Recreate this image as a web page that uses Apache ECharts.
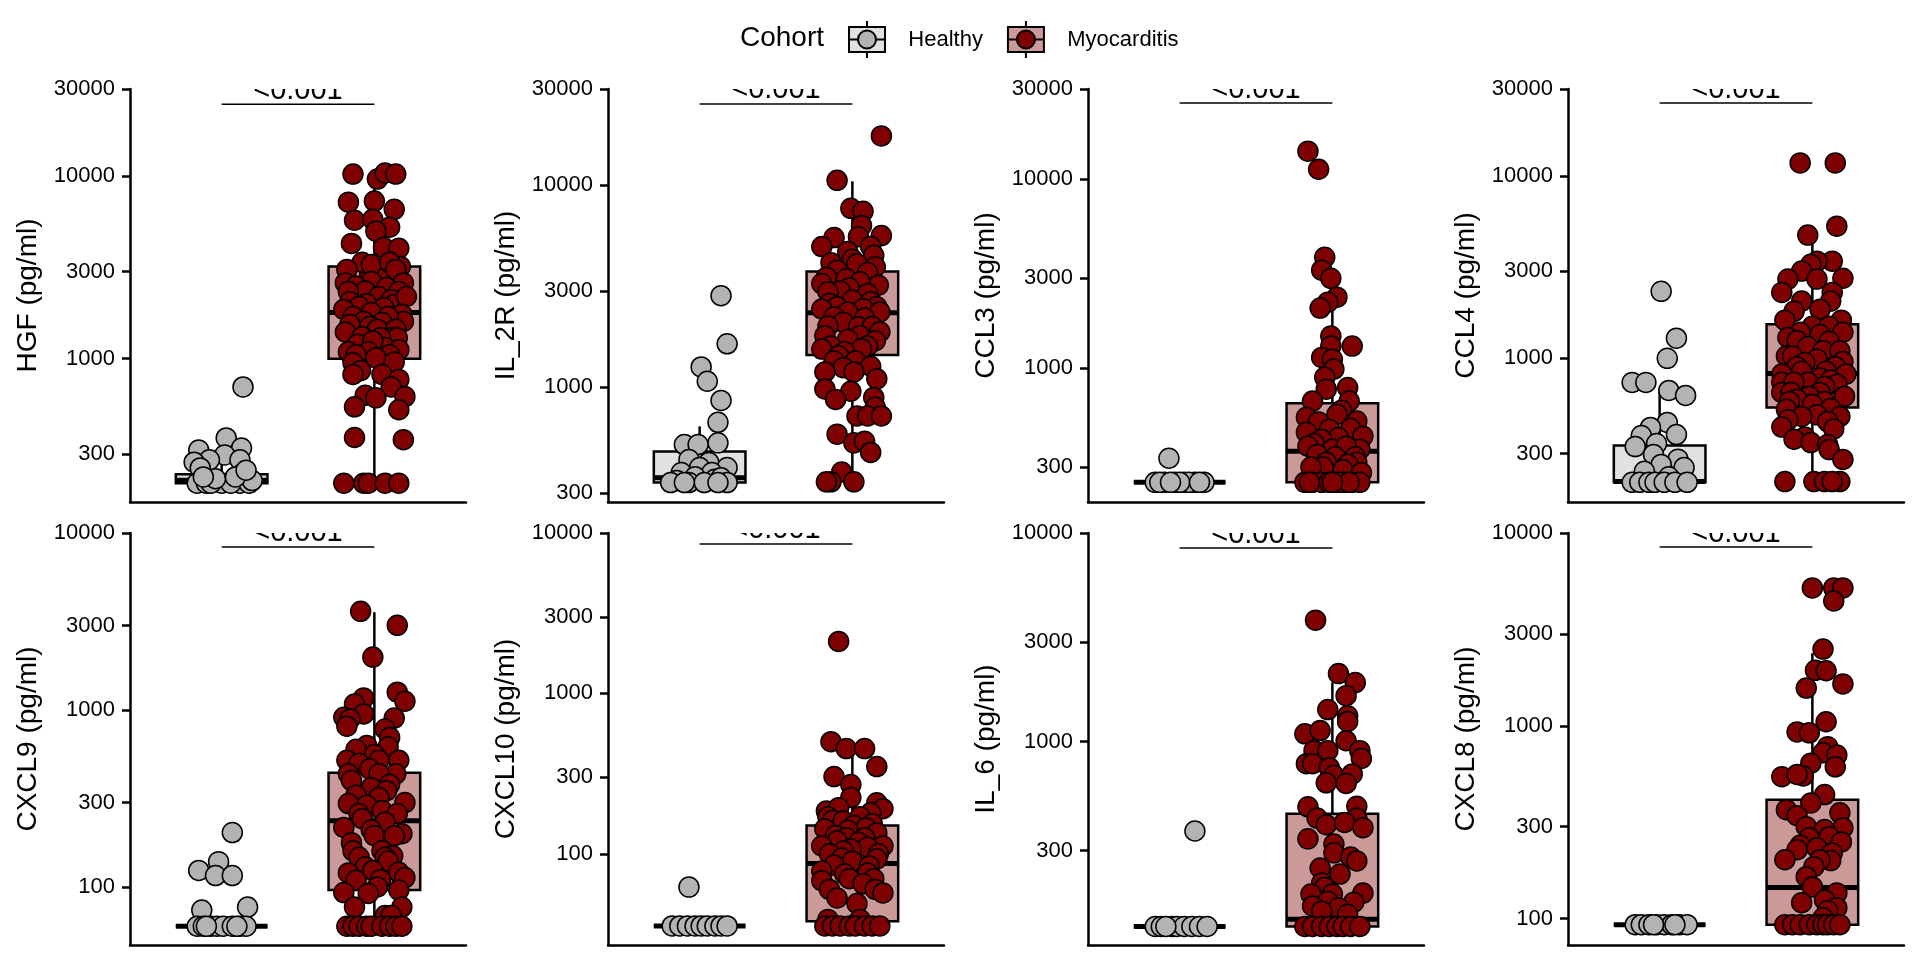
<!DOCTYPE html>
<html>
<head>
<meta charset="utf-8">
<script src="https://cdn.jsdelivr.net/npm/echarts@6/dist/echarts.min.js"></script>
<style>
html, body { margin: 0; padding: 0; background: #fff; }
#chart { width: 1920px; height: 960px; }
</style>
</head>
<body>
<div id="chart"></div>
<script>
// panel order: left to right, top row then bottom row
var markers = ['HGF', 'IL_2R', 'CCL3', 'CCL4', 'CXCL9', 'CXCL10', 'IL_6', 'CXCL8'];
var cohorts = ['Healthy', 'Myocarditis'];
var yMin = [164, 270, 196, 163, 47, 27, 106, 73];
var yMax = [30000, 30000, 30000, 30000, 10000, 10000, 10000, 10000];
var yTicks = [
    [300, 1000, 3000, 10000, 30000],
    [300, 1000, 3000, 10000, 30000],
    [300, 1000, 3000, 10000, 30000],
    [300, 1000, 3000, 10000, 30000],
    [100, 300, 1000, 3000, 10000],
    [100, 300, 1000, 3000, 10000],
    [300, 1000, 3000, 10000],
    [100, 300, 1000, 3000, 10000]
];
// box stats: [min, Q1, median, Q3, max]
var healthyBox = [
    [208, 208, 216, 233, 300],
    [337, 337, 356, 480, 640],
    [249, 249, 249, 249, 249],
    [209, 209, 211, 333, 676],
    [60, 60, 60, 60, 60],
    [35.5, 35.5, 35.5, 35.5, 35.5],
    [130, 130, 130, 130, 130],
    [93, 93, 93, 93, 93]
];
var myoBox = [
    [208, 1000, 1790, 3200, 10400],
    [340, 1443, 2335, 3740, 10470],
    [249, 249, 364, 653, 2050],
    [211, 538, 827, 1537, 4340],
    [60, 96, 237, 442, 3570],
    [35.5, 38, 87, 150, 453],
    [130, 130, 141, 451, 1920],
    [93, 93, 145, 414, 2380]
];
var bracketLevel = [24760, 25300, 25260, 25130, 8340, 8540, 8470, 8460];
var pLabel = '<0.001';

// points: [jitter offset from group centre, value in pg/ml]
var hgfHealthy = [[0.14,700],[0.03,368],[-0.15,316],[0.13,324],[0.02,297],[-0.08,279],[-0.18,271],[-0.14,252],[0.12,279],[0.14,236],[-0.16,208],[0,208],[0.12,208],[-0.10,208],[-0.07,208],[0.06,208],[0.18,208],[0.2,215],[-0.04,220],[0.09,225],[-0.12,225],[0.16,245]];
var hgfMyo = [[-0.14,10260],[0.02,9630],[0.07,10400],[0.14,10260],[-0.17,7200],[0,7300],[0.13,6580],[-0.13,5730],[-0.01,5800],[0.10,5250],[0.01,4990],[-0.15,4280],[0.06,4070],[0.16,4020],[-0.03,2900],[0.12,2800],[0.04,3000],[0.17,3200],[-0.08,3370],[-0.18,3080],[-0.02,3280],[0.10,3370],[0.14,3080],[-0.19,2600],[0.19,2600],[-0.02,2650],[-0.12,2500],[0.08,2450],[-0.06,2350],[-0.17,2330],[0.16,2330],[0.03,2190],[0.11,2100],[-0.16,2050],[-0.05,2000],[-0.10,1930],[0.13,1980],[0.06,1900],[-0.02,1790],[-0.20,1860],[0.21,2190],[0.18,1750],[-0.14,1700],[0.19,1600],[-0.07,1600],[0.09,1700],[-0.16,1540],[0.05,1580],[-0.03,1500],[-0.19,1400],[0.02,1450],[0.14,1450],[-0.08,1320],[0.11,1300],[0.15,1300],[0.04,1300],[-0.11,1200],[0.07,1150],[-0.01,1250],[-0.17,1090],[-0.04,1090],[0.16,1120],[-0.12,1050],[0.10,1050],[0.01,1010],[-0.14,950],[0.13,960],[-0.09,860],[-0.14,820],[0.05,820],[0.16,770],[0.11,700],[-0.06,630],[0.01,610],[0.20,620],[-0.13,545],[0.16,525],[-0.13,370],[0.19,360],[-0.20,208],[-0.07,208],[-0.04,208],[0.07,208],[0.16,208]];
var il2rHealthy = [[0.14,2840],[0.18,1640],[0.01,1260],[0.05,1070],[0.14,860],[0.12,670],[0.12,530],[-0.10,520],[-0.01,520],[-0.07,438],[0.06,424],[0.18,400],[0,400],[-0.12,378],[0.08,378],[-0.15,345],[-0.03,360],[0.10,350],[-0.19,337],[-0.07,337],[0.03,337],[0.14,356],[0.18,337],[-0.10,337],[0.12,337]];
var il2rMyo = [[0.19,17570],[-0.10,10590],[-0.01,7690],[0.07,7430],[0.06,6320],[0.19,5640],[-0.12,5510],[0.04,5570],[-0.20,4970],[0.12,4970],[-0.03,4700],[0.14,4500],[0,4300],[-0.14,4140],[0.03,4090],[0.15,3950],[-0.10,3800],[0.10,3700],[-0.17,3500],[0.17,3200],[-0.20,3260],[-0.04,3450],[0.05,3330],[-0.02,3100],[-0.08,3000],[0.10,2900],[-0.16,2970],[0,2700],[0.12,2650],[-0.15,2600],[-0.10,2500],[0.16,2500],[0.07,2450],[-0.20,2440],[-0.03,2360],[-0.12,2230],[0.18,2360],[0.08,2200],[-0.06,2100],[-0.16,2010],[0.04,1990],[0.13,2000],[-0.18,1800],[0.05,1800],[-0.03,1730],[0.18,1880],[0.15,1700],[0.10,1600],[-0.14,1600],[0.06,1550],[-0.20,1545],[-0.05,1500],[-0.09,1430],[0.02,1350],[-0.12,1350],[0.12,1270],[-0.06,1250],[-0.18,1190],[0.01,1190],[0.16,1100],[-0.18,980],[-0.01,955],[-0.11,870],[0.14,890],[0.15,795],[0.03,720],[0.10,720],[0.19,720],[-0.10,585],[0.01,530],[0.08,540],[0.12,475],[-0.07,380],[-0.14,340],[0.01,340],[-0.17,340]];
var ccl3Healthy = [[-0.07,334],[-0.16,249],[-0.10,249],[-0.03,249],[0.03,249],[0.10,249],[0.16,249],[-0.13,249],[0.06,249],[0,249],[0.13,249],[-0.06,249]];
var ccl3Myo = [[-0.16,14070],[-0.09,11290],[-0.05,3860],[-0.07,3300],[-0.01,2990],[0.03,2375],[-0.03,2235],[-0.08,2080],[-0.01,1480],[0.13,1310],[-0.01,1310],[-0.07,1140],[0,1115],[0.01,990],[-0.05,895],[-0.04,775],[0.10,790],[-0.13,670],[0.11,670],[0.06,600],[0.03,570],[-0.17,550],[-0.09,520],[0.16,525],[0.12,480],[-0.02,475],[-0.17,458],[0.20,437],[0.04,430],[-0.07,420],[-0.12,400],[0,373],[0.18,373],[0.09,387],[-0.16,387],[-0.10,350],[0.15,340],[0.02,340],[-0.04,318],[0.16,318],[0.10,310],[-0.06,300],[-0.14,300],[0.07,290],[0.19,280],[-0.18,249],[-0.13,249],[-0.07,249],[-0.02,249],[0.03,249],[0.08,249],[0.13,249],[0.18,249],[-0.15,249],[0.05,249],[0.11,249],[0,249]];
var ccl4Healthy = [[0.01,2330],[0.11,1290],[0.05,1000],[-0.18,738],[-0.09,738],[0.06,667],[0.17,626],[0.05,445],[-0.06,418],[0.11,382],[-0.12,377],[-0.16,328],[-0.02,341],[-0.04,297],[0.12,280],[0.01,262],[0.16,252],[-0.10,240],[0.06,224],[-0.18,209],[-0.13,209],[-0.07,209],[-0.03,209],[0.03,209],[0.10,209],[0.18,209]];
var ccl4Myo = [[-0.08,11800],[0.15,11800],[0.16,5310],[-0.03,4740],[0.13,3410],[0.03,3410],[-0.01,3280],[-0.07,3010],[0.20,2750],[-0.16,2720],[0.03,2720],[-0.20,2300],[0.13,2300],[-0.07,2060],[0.12,2060],[0.05,1860],[-0.12,1810],[-0.18,1620],[0.19,1620],[0,1500],[0.11,1500],[-0.08,1390],[0.20,1390],[0.05,1350],[-0.16,1300],[-0.10,1250],[0.11,1240],[-0.03,1160],[0.07,1100],[0.18,1100],[-0.17,1030],[-0.13,1030],[0.20,960],[0.03,990],[-0.05,950],[0.15,900],[-0.10,900],[-0.20,820],[-0.07,850],[0.09,850],[0.22,820],[0.05,780],[0.12,760],[-0.20,740],[-0.03,740],[0.16,720],[-0.12,740],[0.08,700],[-0.20,650],[0.05,650],[-0.14,650],[-0.02,620],[-0.10,595],[0.21,620],[0.08,580],[-0.15,580],[0,560],[0.12,530],[-0.17,525],[0.03,490],[0.18,480],[-0.07,480],[-0.16,460],[0.10,450],[-0.20,420],[0.14,410],[-0.05,370],[-0.12,360],[-0.01,345],[0.10,337],[0.11,316],[0.20,279],[-0.18,211],[0.01,211],[0.08,211],[0.18,211],[0.13,211]];
var cxcl9Healthy = [[0.07,203],[-0.02,139],[-0.15,124],[-0.04,116],[0.07,116],[-0.13,74],[0.17,77],[-0.16,60],[-0.12,60],[-0.07,60],[-0.03,60],[0.01,60],[0.07,60],[0.12,60],[0.16,60],[0.10,60],[-0.10,60]];
var cxcl9Myo = [[-0.09,3610],[0.15,3010],[-0.01,1990],[0.15,1260],[0.20,1120],[-0.07,1170],[-0.13,1080],[-0.07,950],[-0.20,910],[0.13,900],[-0.16,890],[-0.18,810],[0.07,780],[0.10,700],[-0.05,630],[0.09,620],[-0.12,600],[0,560],[-0.18,520],[0.16,520],[0.03,520],[-0.10,500],[-0.03,465],[-0.17,436],[0.14,436],[0.03,436],[-0.15,400],[0.10,380],[-0.02,364],[0.08,350],[-0.12,330],[0.03,320],[0.20,300],[-0.17,296],[-0.05,290],[0.05,270],[-0.10,260],[0.15,260],[-0.08,243],[-0.20,217],[0.07,232],[-0.02,210],[0.18,200],[0,195],[0.13,195],[-0.15,178],[0.05,160],[-0.14,160],[0.12,150],[-0.10,147],[0.07,147],[0.09,140],[-0.06,130],[-0.01,124],[0.16,121],[-0.17,120],[-0.12,109],[0.04,110],[0.20,113],[0.02,100],[-0.20,93],[0.16,96],[-0.04,92],[-0.13,77],[0.18,77],[0.07,69],[0.11,69],[-0.18,60],[-0.14,60],[-0.10,60],[-0.05,60],[-0.02,60],[0.05,60],[0.10,60],[0.14,60],[0.18,60]];
var cxcl10Healthy = [[-0.07,62],[-0.18,35.5],[-0.13,35.5],[-0.08,35.5],[-0.03,35.5],[0.01,35.5],[0.05,35.5],[0.10,35.5],[0.14,35.5],[0.18,35.5]];
var cxcl10Myo = [[-0.09,2110],[-0.14,500],[-0.04,453],[0.08,453],[0.16,350],[-0.12,303],[-0.01,270],[-0.01,224],[0.16,208],[-0.17,185],[0.20,191],[-0.09,194],[0.12,180],[0.05,170],[-0.16,170],[-0.13,161],[-0.06,160],[0.01,150],[0.13,154],[0.09,145],[-0.18,143],[-0.03,140],[0.16,135],[-0.11,130],[-0.04,126],[0.08,126],[-0.10,120],[0.04,118],[-0.20,112],[0.20,112],[0.10,110],[-0.01,107],[-0.06,104],[-0.15,100],[0.17,100],[0.16,93],[-0.07,94],[0,90],[-0.12,85],[0.11,84],[-0.20,78],[0.10,76],[-0.05,75],[-0.02,70],[0.14,70],[-0.20,68],[0.07,65],[0.15,60],[-0.15,60],[0.20,57],[-0.10,53],[0.03,49],[-0.16,39],[0.05,39],[-0.18,35.5],[-0.13,35.5],[-0.08,35.5],[-0.02,35.5],[0.02,35.5],[0.08,35.5],[0.13,35.5],[0.18,35.5]];
var il6Healthy = [[0.10,373],[-0.16,130],[-0.12,130],[-0.05,130],[-0.02,130],[0.03,130],[0.08,130],[0.13,130],[0.18,130],[-0.09,130]];
var il6Myo = [[-0.11,3820],[0.04,2120],[0.15,1920],[0.09,1660],[-0.03,1425],[0.10,1330],[0.10,1250],[-0.18,1090],[-0.08,1130],[0.09,1010],[-0.12,905],[-0.03,905],[0.18,905],[-0.17,784],[-0.13,784],[0.19,830],[-0.02,750],[0.01,690],[0.13,700],[-0.04,635],[0.09,630],[-0.16,487],[0.16,490],[-0.10,430],[0.16,430],[-0.04,400],[0.08,410],[0.20,387],[-0.16,342],[0.01,323],[0.01,293],[0.12,280],[0.16,268],[-0.08,248],[0.05,232],[-0.07,210],[-0.05,200],[0.20,188],[-0.14,186],[0,186],[-0.03,172],[0.14,170],[-0.13,163],[0.04,160],[-0.07,154],[0.10,149],[-0.18,130],[-0.13,130],[-0.07,130],[-0.02,130],[0.03,130],[0.07,130],[0.12,130],[0.18,130]];
var cxcl8Healthy = [[-0.16,93],[-0.12,93],[-0.07,93],[-0.02,93],[0.03,93],[0.08,93],[0.13,93],[0.18,93],[-0.04,93],[0.10,93]];
var cxcl8Myo = [[0,5190],[0.14,5190],[0.20,5190],[0.14,4440],[0.07,2500],[0.02,1940],[0.09,1930],[0.20,1650],[-0.04,1570],[0.09,1050],[-0.10,930],[-0.02,920],[0.10,780],[0.07,725],[0.16,705],[-0.01,640],[0.15,613],[-0.20,545],[-0.06,550],[-0.10,560],[0.08,440],[-0.01,398],[-0.17,367],[-0.10,342],[0.18,354],[-0.04,300],[0.20,296],[0.08,290],[-0.02,263],[0.11,266],[0.19,250],[-0.08,240],[-0.10,228],[0.03,233],[-0.18,202],[0.13,219],[0.12,200],[0.05,202],[0.01,186],[-0.04,165],[0,146],[0.16,136],[0.08,125],[-0.07,121],[0.16,114],[0.10,110],[0.07,101],[-0.18,93],[-0.13,93],[-0.08,93],[-0.02,93],[0.03,93],[0.07,93],[0.10,93],[0.14,93],[0.18,93]];

var healthyPoints = [hgfHealthy, il2rHealthy, ccl3Healthy, ccl4Healthy, cxcl9Healthy, cxcl10Healthy, il6Healthy, cxcl8Healthy];
var myoPoints = [hgfMyo, il2rMyo, ccl3Myo, ccl4Myo, cxcl9Myo, cxcl10Myo, il6Myo, cxcl8Myo];

var chart = echarts.init(document.getElementById('chart'));
var FONT = 'Liberation Sans';
var colLeft = [130, 608, 1088, 1568];
var rowTop = [89, 533];
var rowHeight = [413, 412];
var boxHalf = 0.3;
// legend key glyphs, both 36 x 37 so the two legends overlay exactly
var keyBox = 'path://M0,6 L36,6 L36,31 L0,31 Z M18,0 L18,6 M18,31 L18,37 M0,18.5 L36,18.5';
var keyDot = 'path://M0,0 M36,37 M27,18.5 A9,9 0 1,1 9,18.5 A9,9 0 1,1 27,18.5 Z';

function drawBox(fill) {
    return function (params, api) {
        var x = api.value(0);
        var lo = api.coord([x, api.value(1)]);
        var q1 = api.coord([x - boxHalf, api.value(2)]);
        var md = api.coord([x - boxHalf, api.value(3)]);
        var q3 = api.coord([x + boxHalf, api.value(4)]);
        var hi = api.coord([x, api.value(5)]);
        var line = { stroke: '#000', lineWidth: 2.5 };
        return {
            type: 'group',
            children: [
                { type: 'line', shape: { x1: lo[0], y1: lo[1], x2: lo[0], y2: q1[1] }, style: line },
                { type: 'line', shape: { x1: hi[0], y1: q3[1], x2: hi[0], y2: hi[1] }, style: line },
                { type: 'rect', shape: { x: q1[0], y: q3[1], width: q3[0] - q1[0], height: q1[1] - q3[1] },
                  style: { fill: fill, stroke: '#000', lineWidth: 2.5 } },
                { type: 'line', shape: { x1: md[0], y1: md[1], x2: q3[0], y2: md[1] }, style: { stroke: '#000', lineWidth: 5 } }
            ]
        };
    };
}

function drawBracket(params, api) {
    var a = api.coord([api.value(0), api.value(1)]);
    var b = api.coord([api.value(2), api.value(1)]);
    return {
        type: 'group',
        children: [
            { type: 'line', shape: { x1: a[0], y1: a[1], x2: b[0], y2: b[1] }, style: { stroke: '#000', lineWidth: 1.5 } },
            { type: 'text', x: (a[0] + b[0]) / 2, y: a[1] + 1,
              style: { text: pLabel, fontSize: 29, fontFamily: FONT, fill: '#000', align: 'center', verticalAlign: 'bottom' } }
        ]
    };
}

var grids = [], xAxes = [], yAxes = [], series = [];
markers.forEach(function (name, i) {
    grids.push({ left: colLeft[i % 4], top: rowTop[Math.floor(i / 4)], width: 336, height: rowHeight[Math.floor(i / 4)] });
    xAxes.push({
        type: 'value', gridIndex: i, min: 0.4, max: 2.6,
        axisLine: { lineStyle: { color: '#000', width: 2.5 } },
        axisTick: { show: false }, axisLabel: { show: false }, splitLine: { show: false }
    });
    yAxes.push({
        type: 'log', gridIndex: i, min: yMin[i], max: yMax[i],
        name: name + ' (pg/ml)', nameLocation: 'middle', nameGap: 88,
        nameTextStyle: { fontSize: 28, color: '#000', fontFamily: FONT },
        axisLine: { show: true, lineStyle: { color: '#000', width: 2.5 } },
        axisTick: { show: true, length: 8, customValues: yTicks[i], lineStyle: { color: '#000', width: 2.5 } },
        axisLabel: { customValues: yTicks[i], margin: 15, fontSize: 22, color: '#000', fontFamily: FONT,
            formatter: function (v) { return String(Math.round(v)); } },
        splitLine: { show: false }
    });
    series.push({
        name: 'Healthy', type: 'custom', xAxisIndex: i, yAxisIndex: i, z: 1,
        renderItem: drawBox('#E1E1E1'), encode: { x: 0, y: [1, 2, 3, 4, 5] },
        data: [[1].concat(healthyBox[i])]
    });
    series.push({
        name: 'Myocarditis', type: 'custom', xAxisIndex: i, yAxisIndex: i, z: 1,
        renderItem: drawBox('#CC9999'), encode: { x: 0, y: [1, 2, 3, 4, 5] },
        data: [[2].concat(myoBox[i])]
    });
    series.push({
        name: 'Healthy', type: 'scatter', xAxisIndex: i, yAxisIndex: i, z: 3,
        symbolSize: 20,
        itemStyle: { color: '#B3B3B3', borderColor: '#000', borderWidth: 1.5, opacity: 1 },
        data: healthyPoints[i].map(function (p) { return [1 + p[0], p[1]]; })
    });
    series.push({
        name: 'Myocarditis', type: 'scatter', xAxisIndex: i, yAxisIndex: i, z: 3,
        symbolSize: 20,
        itemStyle: { color: '#7F0000', borderColor: '#000', borderWidth: 1.5, opacity: 1 },
        data: myoPoints[i].map(function (p) { return [2 + p[0], p[1]]; })
    });
    series.push({
        name: 'p', type: 'custom', xAxisIndex: i, yAxisIndex: i, z: 4, clip: true,
        renderItem: drawBracket, encode: { x: [0, 2], y: 1 },
        data: [[1, bracketLevel[i], 2]]
    });
});

function legendLayer(icon, fills, textColor) {
    return {
        left: 848, top: 20, padding: 0, itemGap: 24, itemWidth: 36, itemHeight: 37,
        selectedMode: false,
        formatter: function (n) { return '   ' + n; },
        textStyle: { fontSize: 22, color: textColor, fontFamily: FONT },
        data: cohorts.map(function (c, k) {
            return { name: c, icon: icon, itemStyle: { color: fills[k], borderColor: '#000', borderWidth: 2 } };
        })
    };
}

var option = {
    animation: false,
    backgroundColor: '#fff',
    textStyle: { fontFamily: FONT, color: '#000' },
    title: { text: 'Cohort', left: 740, top: 24, padding: 0,
        textStyle: { fontSize: 28, fontWeight: 'normal', color: '#000', fontFamily: FONT } },
    legend: [
        legendLayer(keyBox, ['#E1E1E1', '#CC9999'], '#000'),
        legendLayer(keyDot, ['#B3B3B3', '#7F0000'], 'rgba(0,0,0,0)')
    ],
    grid: grids,
    xAxis: xAxes,
    yAxis: yAxes,
    series: series
};
chart.setOption(option);
</script>
</body>
</html>
